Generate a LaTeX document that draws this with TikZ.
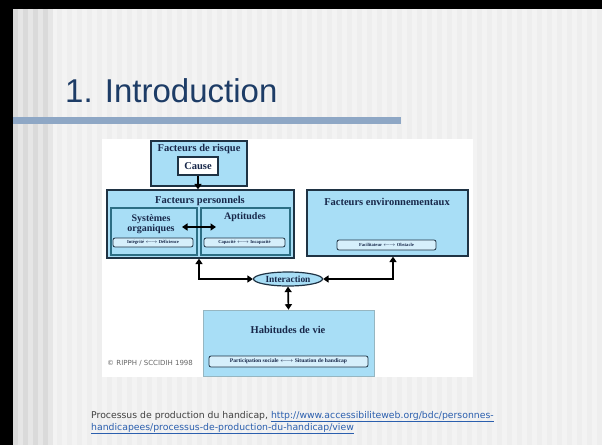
\documentclass[tikz,border=0pt]{standalone}
\usepackage{fontspec}
\setmainfont{Liberation Serif}
\newfontfamily\titrefont{Liberation Sans}
\newfontfamily\piedfont{DejaVu Sans}
\usepackage{xcolor}
\usetikzlibrary{positioning,shapes.geometric,arrows.meta}
\definecolor{fondgris}{HTML}{EEEEEE}
\definecolor{rayure}{HTML}{F3F3F3}
\definecolor{bandegris}{HTML}{DADADA}
\definecolor{bandeclair}{HTML}{E6E6E6}
\definecolor{titrebleu}{HTML}{1D3C66}
\definecolor{regle}{HTML}{8EA7C5}
\definecolor{bleuclair}{HTML}{A8DEF6}
\definecolor{bleupale}{HTML}{D6EFFB}
\definecolor{bordfonce}{HTML}{1F3344}
\definecolor{bordsarcelle}{HTML}{2C6E84}
\definecolor{textefonce}{HTML}{18284A}
\definecolor{lien}{HTML}{2B5FAE}

\begin{document}
\begin{tikzpicture}[x=1pt,y=-1pt,
    boite/.style={draw=bordfonce, fill=bleuclair, line width=1.2pt, rectangle, inner sep=0pt},
    sousboite/.style={draw=bordsarcelle, fill=bleuclair, line width=1.6pt, rectangle, inner sep=0pt},
    petit/.style={draw=bordfonce, fill=bleupale, rounded corners=2pt, line width=0.8pt, inner sep=0pt,
      font=\fontsize{4.6}{5}\selectfont\bfseries, text=textefonce},
    titreb/.style={font=\fontsize{10.5}{11}\selectfont\bfseries, text=textefonce, inner sep=0pt, align=center},
    fleche/.style={-{Triangle[length=5.5pt,width=7pt]}, line width=1.7pt},
    dfleche/.style={{Triangle[length=5.5pt,width=7pt]}-{Triangle[length=5.5pt,width=7pt]}, line width=1.7pt}]
  \useasboundingbox (0,0) rectangle (602,445);

  % fond de la diapositive
  \fill[fondgris] (0,0) rectangle (602,445);
  \foreach \x in {52,62,...,602}
    \fill[rayure] (\x,9) rectangle ++(5,436);
  \foreach \x in {13,23,...,43}
    \fill[bandegris] (\x,9) rectangle ++(5,436);
  \foreach \x in {18,28,...,48}
    \fill[bandeclair] (\x,9) rectangle ++(5,436);
  \fill[black] (0,0) rectangle (602,9);
  \fill[black] (0,0) rectangle (13,445);

  % titre
  \node[anchor=base west, inner sep=0pt, text=titrebleu, font=\titrefont\fontsize{33}{36}\selectfont] (titre) at (65,102) {1. Introduction};
  \fill[regle] (13,117) rectangle (401,124);

  % image du schema
  \fill[white] (102,139) rectangle (473,377);

  \node[boite, minimum width=96pt, minimum height=45pt] (risque) at (199,163.5) {};
  \node[titreb] (risqueT) at (199,149) {Facteurs de risque};
  \node[draw=bordfonce, fill=white, line width=1.2pt, minimum width=40pt, minimum height=18pt, inner sep=0pt, titreb] (cause) at (198,166) {Cause};

  \node[boite, minimum width=187pt, minimum height=68pt] (perso) at (200.5,224) {};
  \node[titreb] (persoT) at (200,200.5) {Facteurs personnels};
  \node[sousboite, minimum width=86pt, minimum height=47pt] (sys) at (154,231.5) {};
  \node[sousboite, minimum width=89pt, minimum height=47pt] (apt) at (245.5,231.5) {};
  \node[titreb, font=\fontsize{10}{10}\selectfont\bfseries] (sysT) at (151,224) {Systèmes\\organiques};
  \node[titreb, font=\fontsize{10}{10}\selectfont\bfseries] (aptT) at (245,217) {Aptitudes};
  \node[petit, minimum width=80pt, minimum height=9pt] (integ) at (153,242.5) {Intégrité $\longleftrightarrow$ Déficience};
  \node[petit, minimum width=81pt, minimum height=9pt] (capac) at (244.5,242.5) {Capacité $\longleftrightarrow$ Incapacité};

  \node[boite, minimum width=161pt, minimum height=66pt] (env) at (387.5,223) {};
  \node[titreb] (envT) at (387,202) {Facteurs environnementaux};
  \node[petit, minimum width=99pt, minimum height=10pt] (facil) at (386.5,245) {Facilitateur $\longleftrightarrow$ Obstacle};

  \node[ellipse, draw=bordfonce, fill=bleuclair, line width=1.2pt, minimum width=69pt, minimum height=14pt, inner sep=0pt,
    font=\fontsize{9.4}{10}\selectfont\bfseries, text=textefonce] (inter) at (288,279) {Interaction};

  \node[draw=bordsarcelle!50, fill=bleuclair, line width=0.6pt, minimum width=171pt, minimum height=66pt, inner sep=0pt] (hab) at (288.5,343) {};
  \node[titreb] (habT) at (288,330) {Habitudes de vie};
  \node[petit, minimum width=159pt, minimum height=11pt, font=\fontsize{5.6}{6}\selectfont\bfseries] (partic) at (288.5,361.5) {Participation sociale $\longleftrightarrow$ Situation de handicap};

  \node[anchor=west, inner sep=0pt, text=black!60, font=\piedfont\fontsize{7}{8}\selectfont] (copie) at (107,363) {© RIPPH / SCCIDIH 1998};

  % fleches
  \draw[fleche] (cause) -- (cause |- perso.north);
  \coordinate (s1) at (182,227);
  \coordinate (s2) at (216,227);
  \draw[dfleche] (s1) -- (s2);
  \draw[dfleche] ([xshift=-1.5pt]perso.south) |- (inter.west);
  \draw[dfleche] ([xshift=5.5pt]env.south) |- (inter.east);
  \draw[dfleche] (inter.south) -- (hab.north);

  % source
  \node[anchor=base west, inner sep=0pt, text=black!75, font=\piedfont\fontsize{9.3}{11}\selectfont] (source1) at (91,418)
    {Processus de production du handicap, \textcolor{lien}{\underline{http://www.accessibiliteweb.org/bdc/personnes-}}};
  \node[anchor=base west, inner sep=0pt, text=lien, font=\piedfont\fontsize{9.3}{11}\selectfont] (source2) at (91,430)
    {\underline{handicapees/processus-de-production-du-handicap/view}};
\end{tikzpicture}
\end{document}
